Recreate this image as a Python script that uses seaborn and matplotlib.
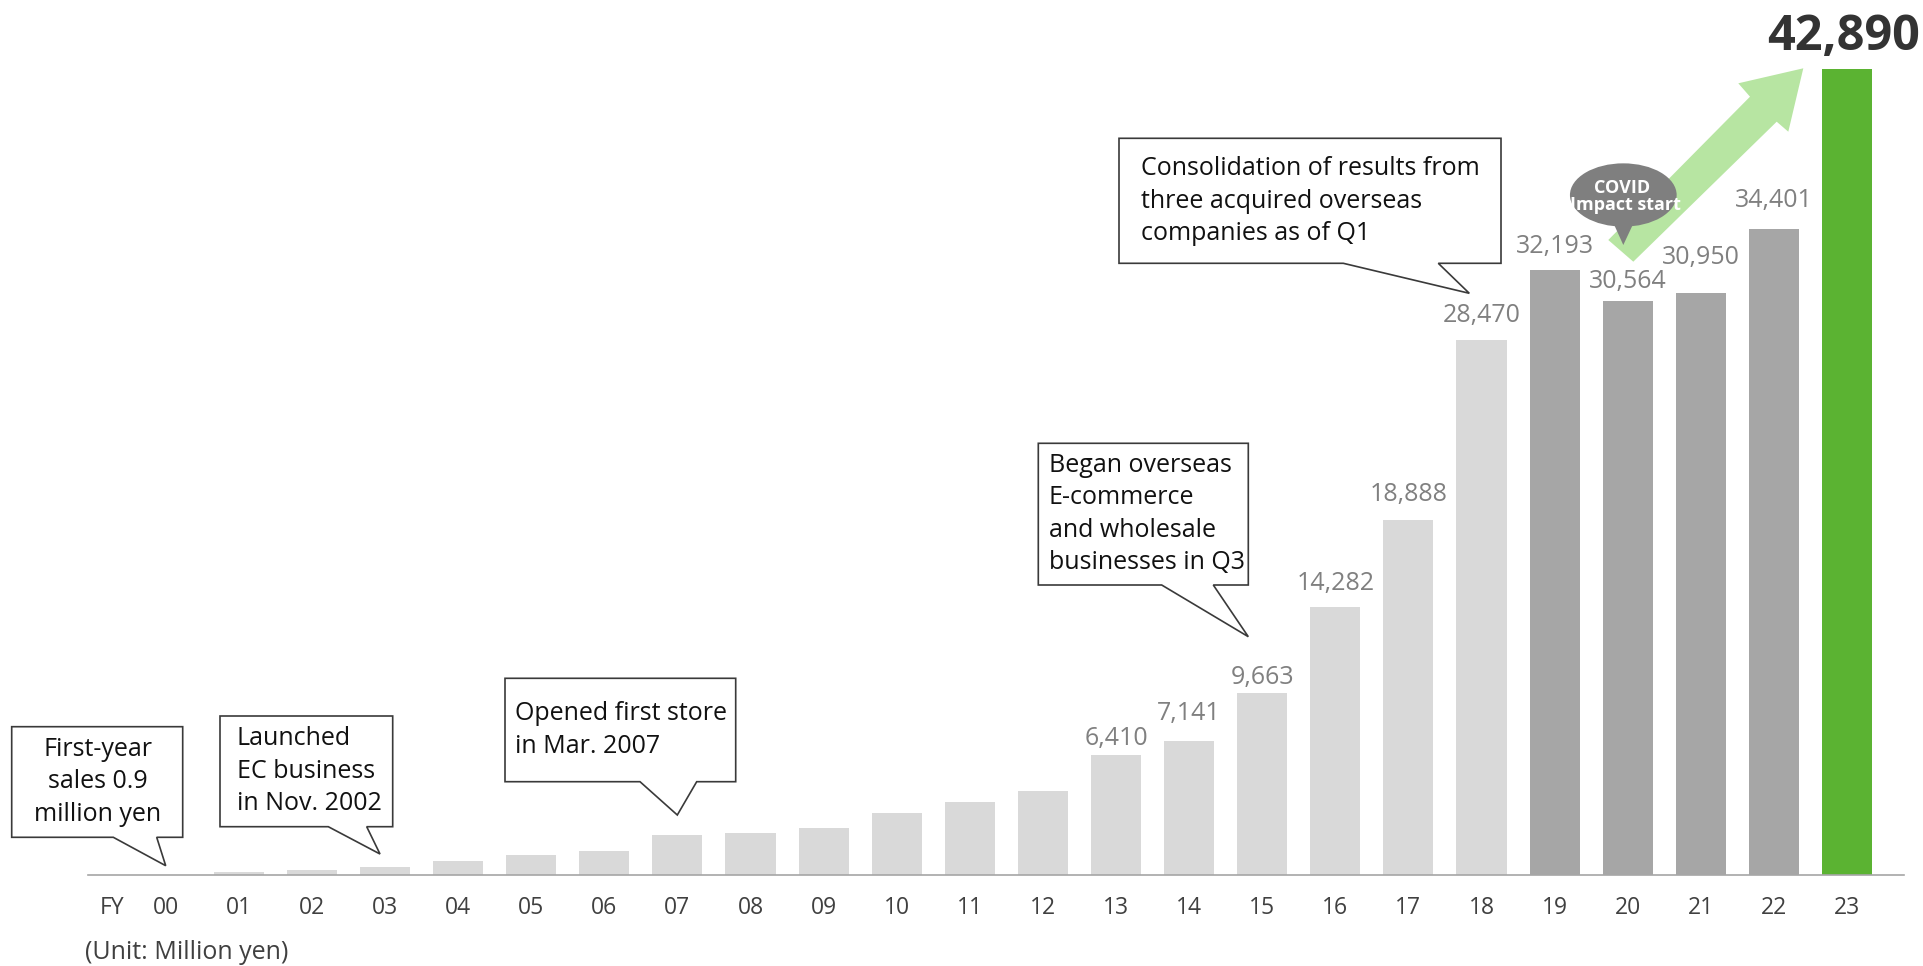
import matplotlib
matplotlib.use("Agg")
import matplotlib.pyplot as plt
from matplotlib.patches import Polygon, Ellipse
from matplotlib.transforms import Affine2D
import pandas as pd
import seaborn as sns

# ---- data (net sales, million yen) ----
fiscal_years = ["00", "01", "02", "03", "04", "05", "06", "07", "08", "09", "10", "11",
                "12", "13", "14", "15", "16", "17", "18", "19", "20", "21", "22", "23"]
net_sales = [0.9, 180, 285, 410, 725, 1060, 1300, 2110, 2250, 2500, 3300, 3870,
             4470, 6410, 7141, 9663, 14282, 18888, 28470, 32193, 30564, 30950, 34401, 42890]
periods = ["early"] * 19 + ["recent"] * 4 + ["latest"]
labelled_years = ["13", "14", "15", "16", "17", "18", "19", "20", "21", "22"]

callout_texts = [
    "First-year\nsales 0.9\nmillion yen",
    "Launched\nEC business\nin Nov. 2002",
    "Opened first store\nin Mar. 2007",
    "Began overseas\nE-commerce\nand wholesale\nbusinesses in Q3",
    "Consolidation of results from\nthree acquired overseas\ncompanies as of Q1",
]
covid_lines = ["COVID", "Impact start"]
unit_note = "(Unit: Million yen)"
axis_prefix = "FY"

# ---- style ----
palette = {"early": "#d9d9d9", "recent": "#a6a6a6", "latest": "#5bb332"}
arrow_color = "#b7e5a2"
bubble_color = "#7f7f7f"
label_color = "#808080"
tick_color = "#404040"

sns.set_theme(style="white")
plt.rcParams["font.family"] = ["Open Sans", "DejaVu Sans"]

W, H = 1924, 966
fig = plt.figure(figsize=(W / 100, H / 100), dpi=100)
# pixel coordinates measured from the top-left corner of the canvas
PX = Affine2D().scale(1 / W, -1 / H).translate(0, 1) + fig.transFigure

ax = fig.add_axes([88.3 / W, 91 / H, (1903.7 - 88.3) / W, 875 / H])
df = pd.DataFrame({"fy": fiscal_years, "sales": net_sales, "period": periods})
sns.barplot(data=df, x="fy", y="sales", hue="period", order=fiscal_years,
            palette=palette, dodge=False, width=0.686, saturation=1,
            legend=False, ax=ax, linewidth=0, zorder=2)

ax.set_xlim(-1.059, 23.776)
ax.set_ylim(0, 46567)
ax.set_xlabel("")
ax.set_ylabel("")
ax.set_yticks([])
for side in ("left", "right", "top"):
    ax.spines[side].set_visible(False)
ax.spines["bottom"].set_color("#a6a6a6")
ax.spines["bottom"].set_linewidth(1.2)
ax.tick_params(axis="x", length=0, pad=15, labelsize=16.5, labelcolor=tick_color)

fig.text(112, 914, axis_prefix, transform=PX, ha="center", va="baseline",
         fontsize=16.5, color=tick_color)
fig.text(85, 959, unit_note, transform=PX, ha="left", va="baseline",
         fontsize=18, color=tick_color)

# ---- value labels (gap above bar in points) ----
label_gap = {"13": 7, "14": 15, "15": 7, "16": 12, "17": 14, "18": 13,
             "19": 12, "20": 9, "21": 21, "22": 15.5}
for i, (fy, v) in enumerate(zip(fiscal_years, net_sales)):
    if fy in labelled_years:
        ax.annotate(f"{v:,}", xy=(i, v), xytext=(0, label_gap[fy]),
                    textcoords="offset points", ha="center", va="baseline",
                    fontsize=18, color=label_color, zorder=5)
last = len(fiscal_years) - 1
ax.annotate(f"{net_sales[last]:,}", xy=(last, net_sales[last]), xytext=(-2.5, 14),
            textcoords="offset points", ha="center", va="baseline",
            fontsize=35, fontweight="bold", color="#333333", zorder=5,
            annotation_clip=False)

# ---- speech-bubble callouts ----
# box (x0, y0, x1, y1), tail (base left, base right, tip x, tip y), text anchor, alignment
callout_layout = [
    ((11.7, 726.7, 182.7, 837.3), (113.3, 156.7, 165.7, 865.7), (98.0, 782), "center"),
    ((220.0, 716.0, 392.7, 826.7), (328.3, 366.7, 380.0, 854.0), (237.0, 771), "left"),
    ((505.0, 678.3, 735.7, 781.7), (640.0, 696.7, 677.3, 815.0), (515.0, 730), "left"),
    ((1038.3, 443.3, 1248.3, 585.0), (1161.7, 1213.3, 1248.3, 636.7), (1049.0, 514), "left"),
    ((1119.0, 138.3, 1501.0, 263.3), (1343.3, 1438.3, 1469.3, 293.3), (1141.0, 201), "left"),
]
for text, (box, tail, anchor, align) in zip(callout_texts, callout_layout):
    x0, y0, x1, y1 = box
    bl, br, tx, ty = tail
    verts = [(x0, y0), (x1, y0), (x1, y1), (br, y1), (tx, ty), (bl, y1), (x0, y1)]
    fig.patches.append(Polygon(verts, closed=True, transform=PX, facecolor="white",
                               edgecolor="#3a3a3a", linewidth=1.2, zorder=6))
    fig.text(anchor[0], anchor[1], text, transform=PX, ha=align, va="center",
             multialignment=align, fontsize=18, color="#111111",
             linespacing=1.37, zorder=7)

# ---- growth arrow ----
arrow_pts = [(1608.3, 240.0), (1750.0, 96.7), (1738.3, 83.3), (1803.3, 68.3),
             (1788.3, 131.7), (1776.7, 121.7), (1633.3, 261.7)]
fig.patches.append(Polygon(arrow_pts, closed=True, transform=PX,
                           facecolor=arrow_color, edgecolor="none", zorder=6))

# ---- COVID bubble ----
fig.patches.append(Ellipse((1623.3, 195.0), 106.7, 63.3, transform=PX,
                           facecolor=bubble_color, edgecolor="none", zorder=7))
fig.patches.append(Polygon([(1612.0, 220.0), (1635.0, 220.0), (1623.3, 245.0)],
                           closed=True, transform=PX, facecolor=bubble_color,
                           edgecolor="none", zorder=7))
fig.text(1621.7, 193.3, covid_lines[0], transform=PX, ha="center", va="baseline",
         fontsize=13, fontweight="bold", color="white", zorder=8)
fig.text(1625.0, 210.5, covid_lines[1], transform=PX, ha="center", va="baseline",
         fontsize=13, fontweight="bold", color="white", zorder=8)

fig.savefig("out.png", dpi=100)
